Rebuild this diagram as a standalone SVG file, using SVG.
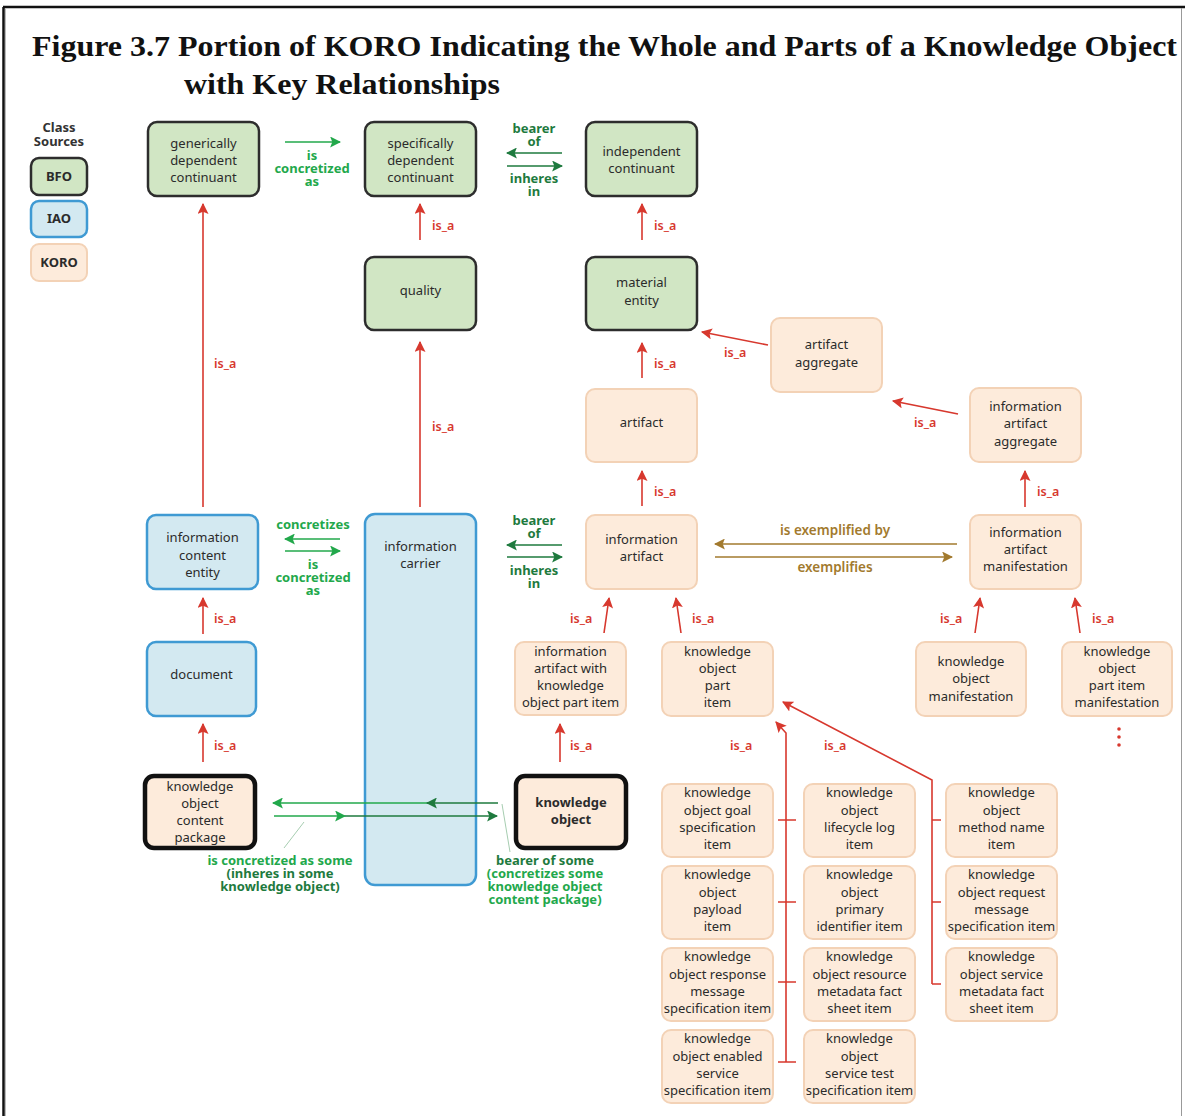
<svg xmlns="http://www.w3.org/2000/svg" width="1185" height="1116" viewBox="0 0 1185 1116">
  <style>
    .bfo { fill: #d1e6c4; stroke: #2d2d2d; stroke-width: 2.5; }
    .iao { fill: #d3e9f1; stroke: #3f9ad3; stroke-width: 2.5; }
    .koro { fill: #fdebdb; stroke: #f3d2b6; stroke-width: 2; }
    .kbold { fill: #fdebdb; stroke: #111; stroke-width: 4.5; }
    .t { font-family: "Noto Sans", "Open Sans", sans-serif; font-size: 13px; fill: #2b2b2b; text-anchor: middle; }
    .tb { font-weight: bold; }
    .isa { font-family: "Noto Sans", sans-serif; font-size: 12.5px; font-weight: 600; fill: #d7382e; }
    .lg { font-family: "Noto Sans", sans-serif; font-size: 13px; font-weight: bold; text-anchor: middle; }
    .g1 { fill: #22a84b; }
    .g2 { fill: #1e7a3e; }
    .br { font-family: "Noto Sans", sans-serif; font-size: 13.5px; font-weight: 600; fill: #a27a2e; text-anchor: middle; }
    .red { stroke: #d7382e; stroke-width: 1.6; fill: none; }
    .lg1 { stroke: #22a84b; stroke-width: 1.6; fill: none; }
    .lg2 { stroke: #1e7a3e; stroke-width: 1.6; fill: none; }
    .lbr { stroke: #a27a2e; stroke-width: 1.6; fill: none; }
    .title { font-family: "Liberation Serif", "Times New Roman", serif; font-weight: bold; font-size: 30px; fill: #111; }
  </style>
  <defs>
    <marker id="mr" viewBox="0 0 10 10" refX="9" refY="5" markerWidth="11" markerHeight="11" markerUnits="userSpaceOnUse" orient="auto">
      <path d="M0,0 L10,5 L0,10 L2,5 z" fill="#d7382e"/>
    </marker>
    <marker id="mg1" viewBox="0 0 10 10" refX="9" refY="5" markerWidth="11" markerHeight="11" markerUnits="userSpaceOnUse" orient="auto">
      <path d="M0,0 L10,5 L0,10 L2,5 z" fill="#22a84b"/>
    </marker>
    <marker id="mg2" viewBox="0 0 10 10" refX="9" refY="5" markerWidth="11" markerHeight="11" markerUnits="userSpaceOnUse" orient="auto">
      <path d="M0,0 L10,5 L0,10 L2,5 z" fill="#1e7a3e"/>
    </marker>
    <marker id="mb" viewBox="0 0 10 10" refX="9" refY="5" markerWidth="11" markerHeight="11" markerUnits="userSpaceOnUse" orient="auto">
      <path d="M0,0 L10,5 L0,10 L2,5 z" fill="#a27a2e"/>
    </marker>
  </defs>

  <rect width="1185" height="1116" fill="#fff"/>
  <!-- page frame -->
  <line x1="3" y1="7" x2="1185" y2="7" stroke="#111" stroke-width="2.5"/>
  <line x1="3.5" y1="7" x2="3.5" y2="1116" stroke="#111" stroke-width="2.5"/>
  <line x1="5.5" y1="8" x2="5.5" y2="1116" stroke="#bbb" stroke-width="1"/>
  <line x1="1181.5" y1="8" x2="1181.5" y2="1116" stroke="#999" stroke-width="1"/>

  <!-- title -->
  <text class="title" x="32" y="56" textLength="1145" lengthAdjust="spacingAndGlyphs">Figure 3.7 Portion of KORO Indicating the Whole and Parts of a Knowledge Object</text>
  <text class="title" x="184" y="94" textLength="316" lengthAdjust="spacingAndGlyphs">with Key Relationships</text>

  <!-- legend -->
  <g id="legend">
    <text class="lg" x="59" y="132" fill="#333">Class</text>
    <text class="lg" x="59" y="146" fill="#333">Sources</text>
    <rect class="bfo" x="31" y="158" width="56" height="37" rx="8"/>
    <text class="t tb" x="59" y="181">BFO</text>
    <rect class="iao" x="31" y="201" width="56" height="36" rx="8"/>
    <text class="t tb" x="59" y="223">IAO</text>
    <rect class="koro" x="31" y="244" width="56" height="37" rx="8"/>
    <text class="t tb" x="59" y="267">KORO</text>
  </g>

  <!-- BFO classes -->
  <g id="gdc"><rect class="bfo" x="148" y="122" width="111" height="74" rx="9"/>
    <text class="t"><tspan x="203.5" y="148">generically</tspan><tspan x="203.5" y="165">dependent</tspan><tspan x="203.5" y="182">continuant</tspan></text></g>
  <g id="sdc"><rect class="bfo" x="365" y="122" width="111" height="74" rx="9"/>
    <text class="t"><tspan x="420.5" y="148">specifically</tspan><tspan x="420.5" y="165">dependent</tspan><tspan x="420.5" y="182">continuant</tspan></text></g>
  <g id="ic"><rect class="bfo" x="586" y="122" width="111" height="74" rx="9"/>
    <text class="t"><tspan x="641.5" y="156">independent</tspan><tspan x="641.5" y="173">continuant</tspan></text></g>
  <g id="quality"><rect class="bfo" x="365" y="257" width="111" height="73" rx="9"/>
    <text class="t" x="420.5" y="295">quality</text></g>
  <g id="material-entity"><rect class="bfo" x="586" y="257" width="111" height="73" rx="9"/>
    <text class="t"><tspan x="641.5" y="287">material</tspan><tspan x="641.5" y="305">entity</tspan></text></g>

  <!-- KORO classes -->
  <g id="artifact-aggregate"><rect class="koro" x="771" y="318" width="111" height="74" rx="9"/>
    <text class="t"><tspan x="826.5" y="349">artifact</tspan><tspan x="826.5" y="367">aggregate</tspan></text></g>
  <g id="artifact"><rect class="koro" x="586" y="389" width="111" height="73" rx="9"/>
    <text class="t" x="641.5" y="427">artifact</text></g>
  <g id="info-artifact-aggregate"><rect class="koro" x="970" y="388" width="111" height="74" rx="9"/>
    <text class="t"><tspan x="1025.5" y="411">information</tspan><tspan x="1025.5" y="428">artifact</tspan><tspan x="1025.5" y="446">aggregate</tspan></text></g>

  <!-- IAO classes -->
  <g id="ice"><rect class="iao" x="147" y="515" width="111" height="74" rx="9"/>
    <text class="t"><tspan x="202.5" y="542">information</tspan><tspan x="202.5" y="560">content</tspan><tspan x="202.5" y="577">entity</tspan></text></g>
  <g id="info-carrier"><rect class="iao" x="365" y="514" width="111" height="371" rx="10"/>
    <text class="t"><tspan x="420.5" y="551">information</tspan><tspan x="420.5" y="568">carrier</tspan></text></g>
  <g id="document"><rect class="iao" x="147" y="642" width="109" height="74" rx="9"/>
    <text class="t" x="201.5" y="679">document</text></g>

  <g id="info-artifact"><rect class="koro" x="586" y="515" width="111" height="74" rx="9"/>
    <text class="t"><tspan x="641.5" y="544">information</tspan><tspan x="641.5" y="561">artifact</tspan></text></g>
  <g id="info-artifact-manifestation"><rect class="koro" x="970" y="515" width="111" height="74" rx="9"/>
    <text class="t"><tspan x="1025.5" y="537">information</tspan><tspan x="1025.5" y="554">artifact</tspan><tspan x="1025.5" y="571">manifestation</tspan></text></g>
  <g id="iawkopi"><rect class="koro" x="515" y="642" width="111" height="73" rx="9"/>
    <text class="t"><tspan x="570.5" y="656">information</tspan><tspan x="570.5" y="673">artifact with</tspan><tspan x="570.5" y="690">knowledge</tspan><tspan x="570.5" y="707">object part item</tspan></text></g>
  <g id="kopi"><rect class="koro" x="662" y="642" width="111" height="74" rx="9"/>
    <text class="t"><tspan x="717.5" y="656">knowledge</tspan><tspan x="717.5" y="673">object</tspan><tspan x="717.5" y="690">part</tspan><tspan x="717.5" y="707">item</tspan></text></g>
  <g id="kom"><rect class="koro" x="916" y="642" width="110" height="74" rx="9"/>
    <text class="t"><tspan x="971" y="666">knowledge</tspan><tspan x="971" y="683">object</tspan><tspan x="971" y="701">manifestation</tspan></text></g>
  <g id="kopim"><rect class="koro" x="1062" y="642" width="110" height="74" rx="9"/>
    <text class="t"><tspan x="1117" y="656">knowledge</tspan><tspan x="1117" y="673">object</tspan><tspan x="1117" y="690">part item</tspan><tspan x="1117" y="707">manifestation</tspan></text></g>

  <g id="kocp"><rect class="kbold" x="145" y="776" width="110" height="72" rx="9"/>
    <text class="t"><tspan x="200" y="791">knowledge</tspan><tspan x="200" y="808">object</tspan><tspan x="200" y="825">content</tspan><tspan x="200" y="842">package</tspan></text></g>
  <g id="knowledge-object"><rect class="kbold" x="516" y="776" width="110" height="72" rx="9"/>
    <text class="t tb"><tspan x="571" y="807">knowledge</tspan><tspan x="571" y="824">object</tspan></text></g>

  <!-- knowledge object part item subclasses -->
  <g id="ko-goal"><rect class="koro" x="662" y="784" width="111" height="73" rx="9"/>
    <text class="t"><tspan x="717.5" y="797">knowledge</tspan><tspan x="717.5" y="815">object goal</tspan><tspan x="717.5" y="832">specification</tspan><tspan x="717.5" y="849">item</tspan></text></g>
  <g id="ko-lifecycle"><rect class="koro" x="804" y="784" width="111" height="73" rx="9"/>
    <text class="t"><tspan x="859.5" y="797">knowledge</tspan><tspan x="859.5" y="815">object</tspan><tspan x="859.5" y="832">lifecycle log</tspan><tspan x="859.5" y="849">item</tspan></text></g>
  <g id="ko-method"><rect class="koro" x="946" y="784" width="111" height="73" rx="9"/>
    <text class="t"><tspan x="1001.5" y="797">knowledge</tspan><tspan x="1001.5" y="815">object</tspan><tspan x="1001.5" y="832">method name</tspan><tspan x="1001.5" y="849">item</tspan></text></g>
  <g id="ko-payload"><rect class="koro" x="662" y="866" width="111" height="73" rx="9"/>
    <text class="t"><tspan x="717.5" y="879">knowledge</tspan><tspan x="717.5" y="897">object</tspan><tspan x="717.5" y="914">payload</tspan><tspan x="717.5" y="931">item</tspan></text></g>
  <g id="ko-primary"><rect class="koro" x="804" y="866" width="111" height="73" rx="9"/>
    <text class="t"><tspan x="859.5" y="879">knowledge</tspan><tspan x="859.5" y="897">object</tspan><tspan x="859.5" y="914">primary</tspan><tspan x="859.5" y="931">identifier item</tspan></text></g>
  <g id="ko-request"><rect class="koro" x="946" y="866" width="111" height="73" rx="9"/>
    <text class="t"><tspan x="1001.5" y="879">knowledge</tspan><tspan x="1001.5" y="897">object request</tspan><tspan x="1001.5" y="914">message</tspan><tspan x="1001.5" y="931">specification item</tspan></text></g>
  <g id="ko-response"><rect class="koro" x="662" y="948" width="111" height="73" rx="9"/>
    <text class="t"><tspan x="717.5" y="961">knowledge</tspan><tspan x="717.5" y="979">object response</tspan><tspan x="717.5" y="996">message</tspan><tspan x="717.5" y="1013">specification item</tspan></text></g>
  <g id="ko-resource"><rect class="koro" x="804" y="948" width="111" height="73" rx="9"/>
    <text class="t"><tspan x="859.5" y="961">knowledge</tspan><tspan x="859.5" y="979">object resource</tspan><tspan x="859.5" y="996">metadata fact</tspan><tspan x="859.5" y="1013">sheet item</tspan></text></g>
  <g id="ko-service-meta"><rect class="koro" x="946" y="948" width="111" height="73" rx="9"/>
    <text class="t"><tspan x="1001.5" y="961">knowledge</tspan><tspan x="1001.5" y="979">object service</tspan><tspan x="1001.5" y="996">metadata fact</tspan><tspan x="1001.5" y="1013">sheet item</tspan></text></g>
  <g id="ko-enabled"><rect class="koro" x="662" y="1030" width="111" height="73" rx="9"/>
    <text class="t"><tspan x="717.5" y="1043">knowledge</tspan><tspan x="717.5" y="1061">object enabled</tspan><tspan x="717.5" y="1078">service</tspan><tspan x="717.5" y="1095">specification item</tspan></text></g>
  <g id="ko-test"><rect class="koro" x="804" y="1030" width="111" height="73" rx="9"/>
    <text class="t"><tspan x="859.5" y="1043">knowledge</tspan><tspan x="859.5" y="1061">object</tspan><tspan x="859.5" y="1078">service test</tspan><tspan x="859.5" y="1095">specification item</tspan></text></g>

  <!-- connectors -->
  <g id="connectors">
    <!-- is_a -->
    <line class="red" x1="203" y1="507" x2="203" y2="204" marker-end="url(#mr)"/>
    <line class="red" x1="420" y1="240" x2="420" y2="204" marker-end="url(#mr)"/>
    <line class="red" x1="642" y1="240" x2="642" y2="204" marker-end="url(#mr)"/>
    <line class="red" x1="420" y1="507" x2="420" y2="342" marker-end="url(#mr)"/>
    <line class="red" x1="642" y1="378" x2="642" y2="343" marker-end="url(#mr)"/>
    <line class="red" x1="768" y1="345" x2="702" y2="332" marker-end="url(#mr)"/>
    <line class="red" x1="958" y1="414" x2="893" y2="401" marker-end="url(#mr)"/>
    <line class="red" x1="642" y1="506" x2="642" y2="471" marker-end="url(#mr)"/>
    <line class="red" x1="1025" y1="507" x2="1025" y2="471" marker-end="url(#mr)"/>
    <line class="red" x1="203" y1="634" x2="203" y2="598" marker-end="url(#mr)"/>
    <line class="red" x1="203" y1="762" x2="203" y2="724" marker-end="url(#mr)"/>
    <line class="red" x1="604" y1="633" x2="609" y2="598" marker-end="url(#mr)"/>
    <line class="red" x1="681" y1="633" x2="676" y2="598" marker-end="url(#mr)"/>
    <line class="red" x1="975" y1="633" x2="980" y2="598" marker-end="url(#mr)"/>
    <line class="red" x1="1080" y1="633" x2="1075" y2="598" marker-end="url(#mr)"/>
    <line class="red" x1="560" y1="762" x2="560" y2="724" marker-end="url(#mr)"/>
    <polyline class="red" points="786,1062 786,733 776,722" marker-end="url(#mr)"/>
    <polyline class="red" points="932,984 932,780 783,702" marker-end="url(#mr)"/>
    <path class="red" d="M778,820 H796 M778,902 H796 M778,982 H796 M778,1062 H796 M932,820 H941 M932,902 H941 M932,984 H941"/>

    <g class="isa">
      <text x="214" y="368">is_a</text>
      <text x="432" y="230">is_a</text>
      <text x="654" y="230">is_a</text>
      <text x="432" y="431">is_a</text>
      <text x="654" y="368">is_a</text>
      <text x="724" y="357">is_a</text>
      <text x="914" y="427">is_a</text>
      <text x="654" y="496">is_a</text>
      <text x="1037" y="496">is_a</text>
      <text x="214" y="623">is_a</text>
      <text x="214" y="750">is_a</text>
      <text x="570" y="623">is_a</text>
      <text x="692" y="623">is_a</text>
      <text x="940" y="623">is_a</text>
      <text x="1092" y="623">is_a</text>
      <text x="570" y="750">is_a</text>
      <text x="730" y="750">is_a</text>
      <text x="824" y="750">is_a</text>
    </g>
    <g fill="#d7382e">
      <circle cx="1119" cy="729" r="1.8"/>
      <circle cx="1119" cy="737" r="1.8"/>
      <circle cx="1119" cy="745" r="1.8"/>
    </g>

    <!-- generically dependent continuant to specifically dependent continuant -->
    <line class="lg1" x1="285" y1="142" x2="340" y2="142" marker-end="url(#mg1)"/>
    <text class="lg g1"><tspan x="312" y="160">is</tspan><tspan x="312" y="173">concretized</tspan><tspan x="312" y="186">as</tspan></text>

    <!-- specifically dependent continuant / independent continuant -->
    <text class="lg g2"><tspan x="534" y="133">bearer</tspan><tspan x="534" y="146">of</tspan></text>
    <line class="lg2" x1="562" y1="153" x2="507" y2="153" marker-end="url(#mg2)"/>
    <line class="lg2" x1="507" y1="166" x2="562" y2="166" marker-end="url(#mg2)"/>
    <text class="lg g2"><tspan x="534" y="183">inheres</tspan><tspan x="534" y="196">in</tspan></text>

    <!-- information content entity / information carrier -->
    <text class="lg g1" x="313" y="529">concretizes</text>
    <line class="lg1" x1="340" y1="539" x2="285" y2="539" marker-end="url(#mg1)"/>
    <line class="lg1" x1="285" y1="551" x2="340" y2="551" marker-end="url(#mg1)"/>
    <text class="lg g1"><tspan x="313" y="569">is</tspan><tspan x="313" y="582">concretized</tspan><tspan x="313" y="595">as</tspan></text>

    <!-- information carrier / information artifact -->
    <text class="lg g2"><tspan x="534" y="525">bearer</tspan><tspan x="534" y="538">of</tspan></text>
    <line class="lg2" x1="562" y1="545" x2="507" y2="545" marker-end="url(#mg2)"/>
    <line class="lg2" x1="507" y1="557" x2="562" y2="557" marker-end="url(#mg2)"/>
    <text class="lg g2"><tspan x="534" y="575">inheres</tspan><tspan x="534" y="588">in</tspan></text>

    <!-- information artifact / manifestation -->
    <text class="br" x="835" y="535">is exemplified by</text>
    <line class="lbr" x1="957" y1="544" x2="715" y2="544" marker-end="url(#mb)"/>
    <line class="lbr" x1="715" y1="557" x2="952" y2="557" marker-end="url(#mb)"/>
    <text class="br" x="835" y="572">exemplifies</text>

    <!-- knowledge object content package / knowledge object -->
    <line class="lg1" x1="428" y1="803" x2="273" y2="803" marker-end="url(#mg1)"/>
    <line class="lg2" x1="498" y1="803" x2="427" y2="803" marker-end="url(#mg2)"/>
    <line class="lg2" x1="345" y1="816" x2="497" y2="816" marker-end="url(#mg2)"/>
    <line class="lg1" x1="274" y1="816" x2="345" y2="816" marker-end="url(#mg1)"/>
    <line x1="304" y1="822" x2="284" y2="848" stroke="#8fbf9c" stroke-width="0.8"/>
    <line x1="502" y1="804" x2="510" y2="852" stroke="#8fbf9c" stroke-width="0.8"/>
    <text class="lg g1" x="280" y="865">is concretized as some</text>
    <text class="lg g2"><tspan x="280" y="878">(inheres in some</tspan><tspan x="280" y="891">knowledge object)</tspan></text>
    <text class="lg g2" x="545" y="865">bearer of some</text>
    <text class="lg g1"><tspan x="545" y="878">(concretizes some</tspan><tspan x="545" y="891">knowledge object</tspan><tspan x="545" y="904">content package)</tspan></text>
  </g>
</svg>
